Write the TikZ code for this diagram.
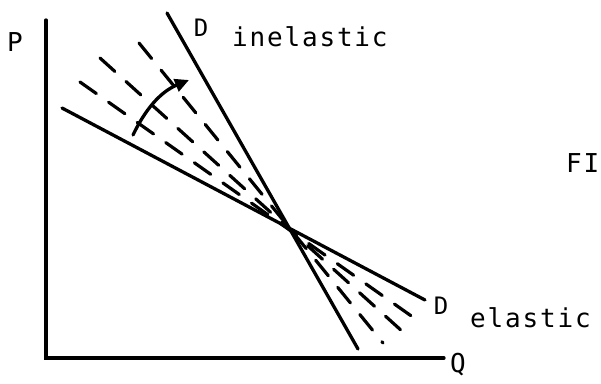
\documentclass[tikz,border=0pt]{standalone}
\usepackage{fontspec}
\setmainfont{DejaVu Sans Mono}
\usetikzlibrary{arrows.meta}
\begin{document}
\begin{tikzpicture}[x=1pt,y=-1pt, line cap=round,
  solidline/.style={line width=3.3pt},
  fanline/.style={line width=3.2pt, dash pattern=on 20pt off 15pt},
  lbl/.style={inner sep=0pt, font=\fontsize{26}{26}\selectfont\addfontfeature{LetterSpace=7}},
  dlbl/.style={inner sep=0pt, font=\fontsize{24}{24}\selectfont}]
\useasboundingbox (0,0) rectangle (601,383);
% axes
\coordinate (Ptop) at (46,20);
\coordinate (O) at (46,358);
\coordinate (Qend) at (444,358);
\draw[solidline] (Ptop) -- (O) -- (Qend);
% demand curves
\coordinate (I1) at (167,13); \coordinate (I2) at (358,349);
\coordinate (E1) at (62,108); \coordinate (E2) at (425,300);
\draw[solidline] (I1) -- (I2);
\draw[solidline] (E1) -- (E2);
% fan of dashed curves
\coordinate (F1a) at (80,82);  \coordinate (F1b) at (417,320);
\coordinate (F2a) at (100,58); \coordinate (F2b) at (403,332);
\coordinate (F3a) at (139,43); \coordinate (F3b) at (383,343);
\draw[fanline] (F1a) -- (F1b);
\draw[fanline] (F2a) -- (F2b);
\draw[fanline] (F3a) -- (F3b);
% rotation arrow
\coordinate (A1) at (133,135); \coordinate (A2) at (189,80);
\draw[line width=3.3pt, -{Triangle[length=14pt,width=13pt]}] (A1) .. controls (145,110) and (160,92) .. (A2);
% labels
\node[lbl] (P) at (15,42) {P};
\node[lbl] (Q) at (458,365) {Q};
\node[dlbl] (D1) at (201,28) {D};
\node[lbl, anchor=base west] (inel) at (232,46) {inelastic};
\node[dlbl] (D2) at (441,306) {D};
\node[lbl, anchor=base west] (el) at (470,327) {elastic};
\node[lbl, anchor=base west] (fi) at (566,172) {FI};
\end{tikzpicture}
\end{document}
